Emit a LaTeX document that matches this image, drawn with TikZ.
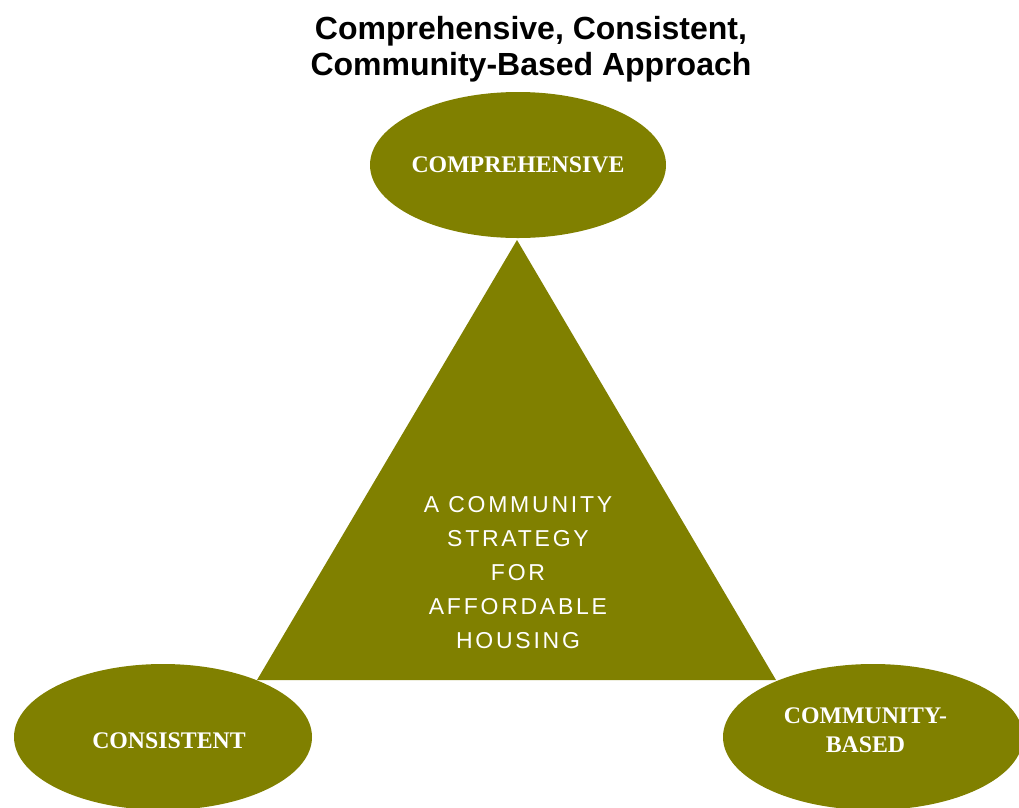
\documentclass[tikz,border=0pt]{standalone}
\usepackage{fontspec}
\usetikzlibrary{shapes.geometric}
\setmainfont{Liberation Serif}
\newfontfamily\titlefont{Liberation Sans}
\newfontfamily\centrefont[LetterSpace=12]{Liberation Sans}
\definecolor{olive}{HTML}{808000}
\begin{document}
\begin{tikzpicture}[x=1pt,y=-1pt,
  bubble/.style={ellipse, fill=olive, draw=none, inner sep=0pt,
    minimum width=296pt, minimum height=146pt},
  bubbletext/.style={text=white, align=center,
    font=\bfseries\fontsize{23.8}{29}\selectfont},
  heading/.style={align=center, font=\titlefont\bfseries\fontsize{32}{36}\selectfont}
]
\useasboundingbox (0,0) rectangle (1019,807);
\clip (0,0) rectangle (1019,807);

% heading
\node[heading] (title) at (531,49) {Comprehensive, Consistent,\\Community-Based Approach};

% central triangle
\coordinate (apex) at (517,240);
\coordinate (bl) at (257,680);
\coordinate (br) at (776,680);
\fill[olive] (apex) -- (bl) -- (br) -- cycle;
\node[text=white, align=center, font=\centrefont\fontsize{23}{34}\selectfont]
  (centre) at (518,573) {A COMMUNITY\\STRATEGY\\FOR\\AFFORDABLE\\HOUSING};

% the three bubbles
\node[bubble] (comp) at (518,165) {};
\node[bubbletext] (comptext) at (518,165) {COMPREHENSIVE};
\node[bubble, minimum width=298pt] (cons) at (163,737) {};
\node[bubbletext] (constext) at (169,741) {CONSISTENT};
\node[bubble, minimum width=300pt] (cb) at (873,737) {};
\node[bubbletext] (cbtext) at (865.5,730) {COMMUNITY-\\BASED};
\end{tikzpicture}
\end{document}
